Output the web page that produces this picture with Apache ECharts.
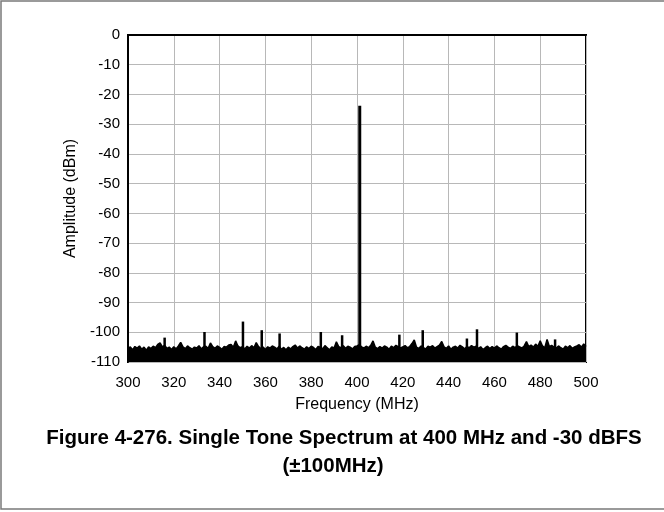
<!DOCTYPE html>
<html>
<head>
<meta charset="utf-8">
<script src="https://cdn.jsdelivr.net/npm/echarts@6/dist/echarts.min.js"></script>
<style>
html,body{margin:0;padding:0;background:#fff;}
#chart{width:664px;height:512px;}
</style>
</head>
<body>
<div id="chart"></div>
<script>
// X ticks / range
var xTicks = [300, 320, 340, 360, 380, 400, 420, 440, 460, 480, 500];
var yTicks = [0, -10, -20, -30, -40, -50, -60, -70, -80, -90, -100, -110];

// Noise floor, one value per MHz from 300 to 500 (dBm)
var noiseStart = 300;
var noiseLevels = [
  -105.4,-104.9,-105.9,-104.8,-105.3,-104.6,-105.7,-105.0,-106.0,-104.9,
  -105.5,-104.7,-105.2,-104.1,-103.6,-104.9,-104.4,-105.4,-105.0,-105.8,
  -104.9,-105.6,-104.6,-103.4,-104.9,-105.5,-104.6,-105.2,-105.7,-105.0,
  -105.3,-104.5,-105.6,-104.9,-104.7,-105.4,-103.6,-104.8,-105.4,-104.6,
  -105.1,-105.7,-104.8,-105.0,-104.3,-104.1,-105.0,-102.9,-104.6,-105.2,
  -104.8,-105.6,-104.7,-105.3,-104.5,-105.2,-103.5,-104.8,-105.5,-105.0,
  -105.8,-104.9,-105.3,-104.6,-105.0,-105.6,-104.7,-105.7,-105.1,-105.9,
  -105.0,-105.6,-104.8,-104.3,-105.3,-104.6,-105.2,-105.7,-104.9,-105.5,
  -104.7,-105.1,-105.8,-104.8,-105.0,-105.6,-104.5,-105.2,-105.9,-104.9,
  -105.3,-103.2,-104.8,-105.2,-104.5,-105.4,-104.7,-105.0,-105.6,-104.8,
  -104.6,-104.2,-104.9,-105.3,-104.7,-105.2,-104.4,-102.9,-105.0,-105.5,
  -104.8,-105.3,-104.6,-105.0,-105.7,-104.7,-105.2,-104.4,-104.8,-105.3,
  -104.9,-104.5,-105.2,-104.8,-103.8,-102.6,-105.0,-105.4,-104.6,-105.2,
  -105.6,-104.7,-105.0,-104.5,-105.3,-104.8,-104.3,-103.1,-104.9,-105.4,
  -104.6,-105.7,-105.0,-104.7,-105.3,-104.4,-104.9,-105.6,-104.8,-105.2,
  -104.5,-105.0,-104.7,-105.4,-104.9,-105.8,-105.2,-104.7,-105.5,-104.8,
  -105.3,-104.6,-105.2,-105.7,-104.8,-104.4,-105.0,-105.4,-104.7,-105.2,
  -104.5,-104.9,-105.3,-104.6,-103.1,-104.8,-104.3,-105.0,-104.0,-104.7,
  -102.9,-104.6,-105.2,-102.4,-104.8,-104.4,-105.0,-105.3,-104.6,-105.2,
  -105.7,-104.7,-105.2,-104.5,-105.4,-104.9,-104.6,-104.2,-105.0,-103.9,
  -104.8
];

// Discrete spurs and the carrier (MHz, dBm)
var spurFreqs  = [316.0, 333.4, 350.2, 358.4, 366.2, 384.2, 393.5, 401.2, 418.5, 428.7, 448.0, 452.4, 469.8, 486.5];
var spurLevels = [-101.8, -99.9, -96.4, -99.3, -100.4, -99.9, -101.0, -23.8, -100.8, -99.3, -102.1, -99.0, -100.1, -102.4];

var noiseData = noiseLevels.map(function (v, i) { return [noiseStart + i, v]; });
var spurData = spurFreqs.map(function (f, i) { return [f, spurLevels[i]]; });

var chart = echarts.init(document.getElementById('chart'), null, {renderer: 'canvas'});
var FONT = 'Liberation Sans, Arial, sans-serif';

chart.setOption({
  animation: false,
  backgroundColor: '#ffffff',
  grid: {
    left: 128, right: 78, top: 35, bottom: 150,
    show: true, borderColor: '#000', borderWidth: 2, backgroundColor: 'transparent'
  },
  xAxis: {
    type: 'value',
    min: xTicks[0], max: xTicks[xTicks.length - 1], interval: 20,
    name: 'Frequency (MHz)',
    nameLocation: 'middle', nameGap: 35,
    nameTextStyle: {fontFamily: FONT, fontSize: 16, color: '#000'},
    axisLine: {show: true, lineStyle: {color: '#000', width: 2}},
    axisTick: {show: false},
    axisLabel: {fontFamily: FONT, fontSize: 15, color: '#000', margin: 13},
    splitLine: {show: true, lineStyle: {color: '#b8b8b8', width: 1}}
  },
  yAxis: {
    type: 'value',
    min: yTicks[yTicks.length - 1], max: yTicks[0], interval: 10,
    name: 'Amplitude (dBm)',
    nameLocation: 'middle', nameGap: 43, nameRotate: 90,
    nameTextStyle: {fontFamily: FONT, fontSize: 16, color: '#000'},
    axisLine: {show: true, onZero: false, lineStyle: {color: '#000', width: 2}},
    axisTick: {show: false},
    axisLabel: {fontFamily: FONT, fontSize: 15, color: '#000', margin: 8},
    splitLine: {show: true, lineStyle: {color: '#b8b8b8', width: 1}}
  },
  series: [
    {
      type: 'line',
      data: noiseData,
      showSymbol: false,
      symbol: 'none',
      lineStyle: {color: '#000', width: 1.5},
      areaStyle: {color: '#000', opacity: 1, origin: 'start'},
      z: 3
    },
    {
      type: 'custom',
      data: spurData,
      z: 4,
      renderItem: function (params, api) {
        var f = api.value(0), v = api.value(1);
        var p0 = api.coord([f, yTicks[yTicks.length - 1]]);
        var p1 = api.coord([f, v]);
        return {
          type: 'line',
          shape: {x1: p0[0], y1: p0[1], x2: p1[0], y2: p1[1]},
          style: {stroke: '#000', lineWidth: v > -50 ? 3 : 2.5}
        };
      }
    }
  ],
  graphic: [
    {
      type: 'rect', silent: true,
      shape: {x: 1, y: 1, width: 700, height: 508},
      style: {fill: 'none', stroke: '#7a7a7a', lineWidth: 1.5}
    },
    {
      type: 'text', x: 344, y: 438,
      style: {text: 'Figure 4-276. Single Tone Spectrum at 400 MHz and -30 dBFS',
        font: 'bold 20.5px ' + FONT, fill: '#000', align: 'center', verticalAlign: 'middle'}
    },
    {
      type: 'text', x: 333, y: 466,
      style: {text: '(±100MHz)', font: 'bold 20.5px ' + FONT, fill: '#000', align: 'center', verticalAlign: 'middle'}
    }
  ]
});
</script>
</body>
</html>
